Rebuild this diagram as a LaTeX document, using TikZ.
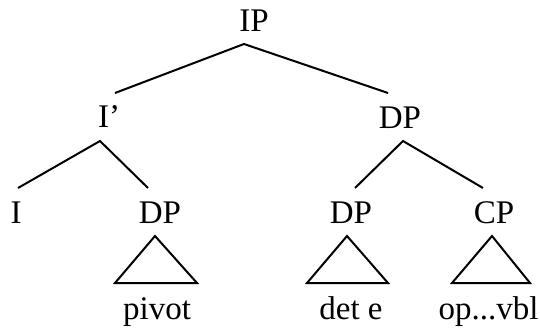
\documentclass[tikz,border=0pt]{standalone}
\usepackage{fontspec}
\setmainfont{Liberation Serif}
\begin{document}
\begin{tikzpicture}[x=1pt,y=-1pt,
  lbl/.style={anchor=base,inner sep=0pt,font=\fontsize{33}{36}\selectfont},
  edge/.style={line width=2pt},
  roof/.style={line width=2pt,line join=miter}]
\useasboundingbox (0,0) rectangle (540,327);
% labels
\node[lbl] (IP) at (254,31) {IP};
\node[lbl] (Ibar) at (109,127) {I’};
\node[lbl] (DPr) at (400,128) {DP};
\node[lbl] (I) at (16,223) {I};
\node[lbl] (DPa) at (160,223) {DP};
\node[lbl] (DPb) at (351,223) {DP};
\node[lbl] (CP) at (494,223) {CP};
\node[lbl] (piv) at (157,319) {pivot};
\node[lbl] (dete) at (351,319) {det e};
\node[lbl] (opv) at (488.5,319) {op...vbl};
% junction points
\coordinate (IPa) at (244,44);
\coordinate (Ibart) at (115,93);
\coordinate (DPrt) at (388,93);
\coordinate (Ibara) at (100,141);
\coordinate (It) at (18,188);
\coordinate (DPat) at (148,188);
\coordinate (DPra) at (403,141);
\coordinate (DPbt) at (355,188);
\coordinate (CPt) at (483,188);
% roof points
\coordinate (Ra1) at (155,236); \coordinate (Ra2) at (115,283); \coordinate (Ra3) at (197,283);
\coordinate (Rb1) at (347,236); \coordinate (Rb2) at (307,283); \coordinate (Rb3) at (388,283);
\coordinate (Rc1) at (492,236); \coordinate (Rc2) at (452,283); \coordinate (Rc3) at (530,283);
% branches
\draw[edge] (Ibart) -- (IPa) -- (DPrt);
\draw[edge] (It) -- (Ibara) -- (DPat);
\draw[edge] (DPbt) -- (DPra) -- (CPt);
% triangles
\draw[roof] (Ra1) -- (Ra2) -- (Ra3) -- cycle;
\draw[roof] (Rb1) -- (Rb2) -- (Rb3) -- cycle;
\draw[roof] (Rc1) -- (Rc2) -- (Rc3) -- cycle;
\end{tikzpicture}
\end{document}
